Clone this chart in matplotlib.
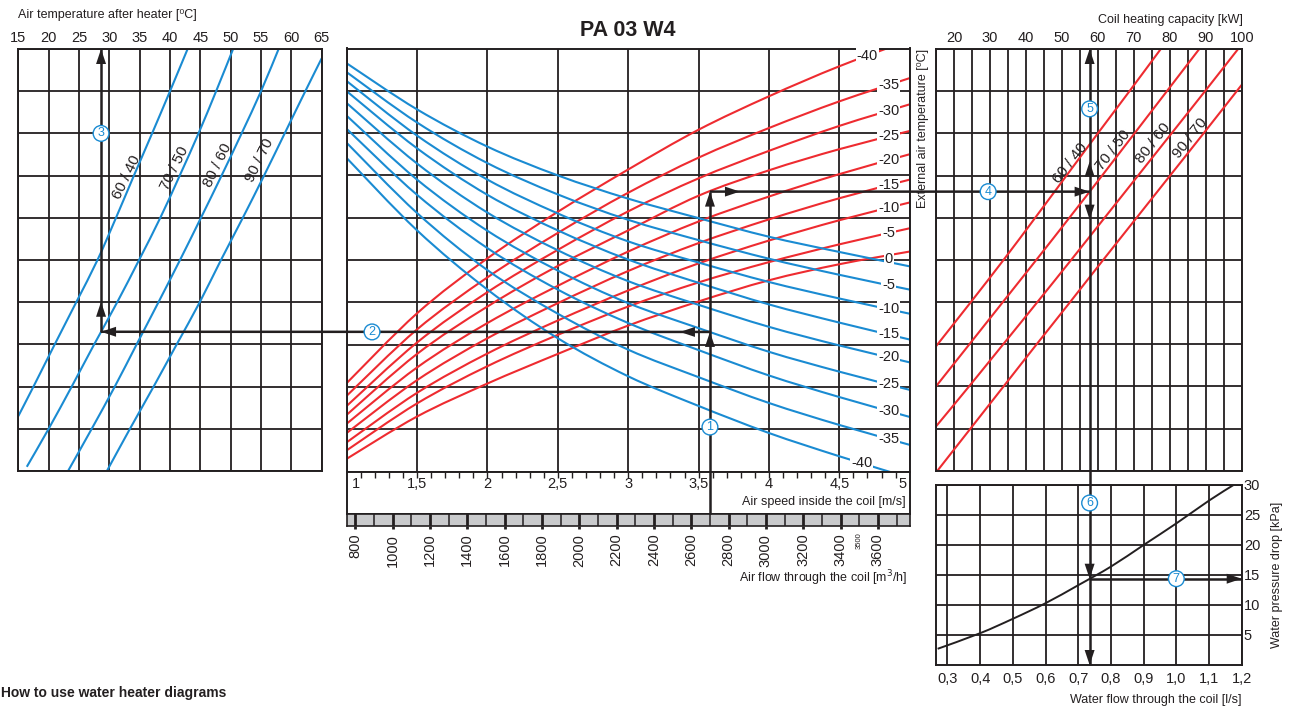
import numpy as np
import matplotlib
matplotlib.use('Agg')
import matplotlib.pyplot as plt
from matplotlib.path import Path
from matplotlib.patches import PathPatch

plt.rcParams['font.family'] = ['Liberation Sans', 'DejaVu Sans']

# the three upper charts share one hidden vertical scale: row 0 at the bottom, row 10 at the top

# centre chart: air speed [m/s] and the external air temperature curves
speed = [1, 1.5, 2, 2.5, 3, 3.5, 4, 4.5, 5]
flow_per_speed = 754   # m3/h of air at 1 m/s
red_temps = [-40, -35, -30, -25, -20, -15, -10, -5, 0]
red_rows = [
    [2.09, 3.74, 5.04, 6.14, 7.14, 8.08, 8.87, 9.58, 10.2],
    [1.79, 3.36, 4.59, 5.64, 6.59, 7.42, 8.12, 8.75, 9.30],
    [1.55, 3.05, 4.24, 5.24, 6.15, 6.93, 7.58, 8.17, 8.68],
    [1.34, 2.78, 3.90, 4.86, 5.70, 6.52, 7.12, 7.62, 8.05],
    [1.13, 2.46, 3.51, 4.39, 5.20, 5.91, 6.50, 7.03, 7.50],
    [0.91, 2.16, 3.15, 3.98, 4.74, 5.40, 5.96, 6.46, 6.90],
    [0.69, 1.86, 2.79, 3.57, 4.28, 4.92, 5.46, 5.94, 6.36],
    [0.50, 1.61, 2.49, 3.23, 3.90, 4.47, 4.95, 5.37, 5.75],
    [0.30, 1.30, 2.08, 2.78, 3.45, 4.02, 4.52, 4.90, 5.20],
]
blue_temps = [0, -5, -10, -15, -20, -25, -30, -35, -40]
blue_rows = [
    [9.65, 8.56, 7.68, 7.00, 6.45, 5.99, 5.55, 5.19, 4.85],
    [9.44, 8.25, 7.29, 6.55, 5.95, 5.47, 5.03, 4.65, 4.30],
    [9.23, 7.94, 6.90, 6.10, 5.44, 4.94, 4.48, 4.09, 3.73],
    [8.99, 7.64, 6.54, 5.70, 5.01, 4.46, 3.95, 3.52, 3.12],
    [8.71, 7.28, 6.12, 5.23, 4.50, 3.94, 3.42, 2.98, 2.58],
    [8.41, 6.90, 5.69, 4.75, 3.98, 3.39, 2.83, 2.36, 1.93],
    [8.10, 6.54, 5.28, 4.30, 3.51, 2.87, 2.27, 1.76, 1.29],
    [7.77, 6.11, 4.76, 3.73, 2.88, 2.23, 1.62, 1.10, 0.63],
    [7.41, 5.70, 4.30, 3.15, 2.25, 1.55, 0.91, 0.36, -0.15],
]
speed_ticks = [1, 1.5, 2, 2.5, 3, 3.5, 4, 4.5, 5]
speed_ticklabels = ['1', '1,5', '2', '2,5', '3', '3,5', '4', '4,5', '5']
flow_ticks = [800, 1000, 1200, 1400, 1600, 1800, 2000, 2200, 2400, 2600,
              2800, 3000, 3200, 3400, 3600]

# left chart: air temperature after heater [C] for each water regime
water_temps = ['60 / 40', '70 / 50', '80 / 60', '90 / 70']
after_rows = [
    [10, 9, 8, 7, 6, 5, 4, 3, 2, 1.3],
    [10, 9, 8, 7, 6, 5, 4, 3, 2, 1, 0.1],
    [10, 9, 8, 7, 6, 5, 4, 3, 2, 1, 0],
    [9.78, 9, 8, 7, 6, 5, 4, 3, 2, 1, 0],
]
after_temps = [
    [42.9, 40.0, 37.05, 34.05, 31.1, 28.05, 24.55, 21.0, 17.5, 15.0],
    [50.4, 47.6, 44.7, 41.6, 38.4, 34.9, 31.3, 27.5, 23.8, 20.0, 16.4],
    [57.9, 55.0, 51.8, 48.5, 45.1, 41.65, 38.1, 34.5, 30.9, 27.1, 23.2],
    [65.0, 62.3, 58.9, 55.5, 52.0, 48.4, 44.9, 41.1, 37.3, 33.4, 29.6],
]
after_ticks = [15, 20, 25, 30, 35, 40, 45, 50, 55, 60, 65]

# right chart: coil heating capacity [kW]
cap_rows = [
    [10, 9, 8, 7, 6, 5, 4, 2.95],
    [10, 9, 8, 7, 6, 5, 4, 3, 2],
    [10, 9, 8, 7, 6, 5, 4, 3, 2, 1.05],
    [9.15, 8, 7, 6, 5, 4, 3, 2, 1, 0],
]
cap_kw = [
    [77.5, 68.8, 60.0, 51.3, 42.6, 33.8, 24.7, 15.0],
    [88.2, 79.2, 70.2, 61.2, 52.1, 42.9, 33.6, 24.3, 15.0],
    [99.0, 89.8, 80.5, 71.2, 61.9, 52.6, 43.2, 33.7, 24.2, 15.0],
    [100.0, 89.4, 80.1, 70.8, 61.5, 52.3, 43.0, 33.8, 24.6, 15.4],
]
cap_ticks = [20, 30, 40, 50, 60, 70, 80, 90, 100]

# bottom right: water pressure drop [kPa] against water flow [l/s]
water_flow = [0.27, 0.4, 0.5, 0.6, 0.7, 0.8, 0.9, 1.0, 1.1, 1.175]
pressure_drop = [2.7, 5.3, 7.7, 10.3, 13.3, 16.4, 20.0, 23.6, 27.4, 30.0]
water_ticks = [0.3, 0.4, 0.5, 0.6, 0.7, 0.8, 0.9, 1.0, 1.1, 1.2]
water_ticklabels = ['0,3', '0,4', '0,5', '0,6', '0,7', '0,8', '0,9', '1,0', '1,1', '1,2']
dp_ticks = [5, 10, 15, 20, 25, 30]

# worked example
route_flow = 2700
route_temp = -25
route_water = '70 / 50'

INK = '#231f20'
BLUE = '#1a8bd2'
RED = '#ee2b30'
W, H = 1290, 709

fig = plt.figure(figsize=(W / 100, H / 100), dpi=100)


def box(x0, y0, x1, y1):
    # pixel box (top-left origin) -> figure fraction rect
    return [x0 / W, 1 - y1 / H, (x1 - x0) / W, (y1 - y0) / H]


def style(ax):
    for sp in ax.spines.values():
        sp.set_color(INK)
        sp.set_linewidth(1.4)
    ax.tick_params(length=0, colors=INK, labelcolor=INK)
    ax.grid(True, color=INK, lw=1.3)
    ax.set_axisbelow(True)


def smooth(ax, xs, ys, color, lw=1.5):
    # draw a curve through the read points as a Catmull-Rom style bezier
    p = np.column_stack([xs, ys]).astype(float)
    p = np.vstack([p[0], p, p[-1]])
    verts = [p[1]]
    codes = [Path.MOVETO]
    for i in range(1, len(p) - 2):
        c1 = p[i] + (p[i + 1] - p[i - 1]) / 6
        c2 = p[i + 1] - (p[i + 2] - p[i]) / 6
        verts += [c1, c2, p[i + 1]]
        codes += [Path.CURVE4] * 3
    ax.add_patch(PathPatch(Path(verts, codes), fill=False, ec=color, lw=lw))


# ---- left chart ----
ax_l = fig.add_axes(box(18.3, 49, 321.7, 471))
ax_l.set_xlim(15, 65)
ax_l.set_ylim(0, 10)
ax_l.set_xticks(after_ticks)
ax_l.set_yticks(range(11))
ax_l.set_yticklabels([])
ax_l.xaxis.tick_top()
style(ax_l)
ax_l.tick_params(axis='x', labelsize=10.5, pad=3)
for rows, temps in zip(after_rows, after_temps):
    smooth(ax_l, temps, rows, BLUE)
left_label_pos = [(32.8, 6.97), (40.75, 7.17), (47.9, 7.25), (54.8, 7.37)]
for name, (x, y) in zip(water_temps, left_label_pos):
    ax_l.text(x, y, name, rotation=64, ha='center', va='center',
              rotation_mode='anchor', fontsize=11, color=INK)

# ---- centre chart ----
ax_m = fig.add_axes(box(346.7, 48.5, 909.7, 471.5))
ax_m.set_xlim(1, 5)
ax_m.set_ylim(0, 10)
ax_m.set_xticks(speed_ticks)
ax_m.set_yticks(range(11))
ax_m.set_xticklabels([])
ax_m.set_yticklabels([])
style(ax_m)
for rows in red_rows:
    smooth(ax_m, speed, rows, RED)
for rows in blue_rows:
    smooth(ax_m, speed, rows, BLUE)

lab_box = dict(fc='white', ec='none', pad=0.6)
for t, rows in zip(red_temps, red_rows):
    if t == 0:
        continue
    s = 4.70 if t == -40 else 4.85
    ax_m.text(s, np.interp(s, speed, rows), str(t), ha='center', va='center',
              fontsize=10.5, color=INK, bbox=lab_box, zorder=5)
for t, rows in zip(blue_temps, blue_rows):
    if t == 0:
        continue
    s = 4.66 if t == -40 else 4.85
    ax_m.text(s, np.interp(s, speed, rows), str(t), ha='center', va='center',
              fontsize=10.5, color=INK, bbox=lab_box, zorder=5)
zero_y = (np.interp(4.85, speed, red_rows[red_temps.index(0)]) +
          np.interp(4.85, speed, blue_rows[blue_temps.index(0)])) / 2
ax_m.text(4.85, zero_y, '0', ha='center', va='center', fontsize=10.5,
          color=INK, bbox=lab_box, zorder=5)

# speed scale under the centre chart
ax_s = fig.add_axes(box(346.7, 471.5, 909.7, 514))
ax_s.set_xlim(1, 5)
ax_s.set_ylim(0, 1)
ax_s.set_xticks(np.arange(1.1, 4.95, 0.1))
ax_s.set_yticks([])
for sp in ax_s.spines.values():
    sp.set_color(INK)
    sp.set_linewidth(1.4)
ax_s.tick_params(axis='x', top=True, bottom=False, direction='in', length=4,
                 width=1, color=INK, labelbottom=False)
for v, lab in zip(speed_ticks, speed_ticklabels):
    if v == speed_ticks[0]:
        ax_s.text(v + 0.035, 0.7, lab, ha='left', va='center', fontsize=10.5, color=INK)
    elif v == speed_ticks[-1]:
        ax_s.text(v - 0.025, 0.7, lab, ha='right', va='center', fontsize=10.5, color=INK)
    else:
        ax_s.text(v, 0.7, lab, ha='center', va='center', fontsize=10.5, color=INK)
ax_s.text(4.97, 0.28, 'Air speed inside the coil [m/s]', ha='right', va='center',
          fontsize=9, color=INK)

# air flow strip
ax_f = fig.add_axes(box(346.7, 514, 909.7, 526))
ax_f.set_xlim(speed[0] * flow_per_speed, speed[-1] * flow_per_speed)
ax_f.set_ylim(0, 1)
ax_f.set_facecolor('#c9cacc')
for sp in ax_f.spines.values():
    sp.set_color(INK)
    sp.set_linewidth(1.2)
for v in range(flow_ticks[0], flow_ticks[-1] + 101, 100):
    ax_f.axvline(v, color=INK, lw=2.0 if v in flow_ticks else 1.1)
ax_f.set_xticks(flow_ticks)
ax_f.set_xticklabels([str(v) for v in flow_ticks], rotation=90, fontsize=10.5, color=INK)
ax_f.set_yticks([])
ax_f.tick_params(axis='x', length=2.5, width=2, pad=3, color=INK)
ax_f.text(3500, -0.55, '3500', rotation=90, ha='center', va='top', fontsize=5.5,
          color=INK, transform=ax_f.get_xaxis_transform())
fig.text(907 / W, 1 - 578 / H, 'Air flow through the coil [m$^3$/h]', ha='right',
         va='center', fontsize=9, color=INK)

# ---- right chart ----
ax_r = fig.add_axes(box(936, 49, 1241.7, 470.7))
ax_r.set_xlim(15, 100)
ax_r.set_ylim(0, 10)
grid_kw = list(range(15, 101, 5))
ax_r.set_xticks(grid_kw)
ax_r.set_xticklabels([str(v) if v in cap_ticks else '' for v in grid_kw])
ax_r.set_yticks(range(11))
ax_r.set_yticklabels([])
ax_r.xaxis.tick_top()
style(ax_r)
ax_r.tick_params(axis='x', labelsize=10.5, pad=3)
for rows, kw in zip(cap_rows, cap_kw):
    smooth(ax_r, kw, rows, RED)
right_label_pos = [(52.25, 7.29), (64.3, 7.6), (75.4, 7.77), (85.6, 7.88)]
for name, (x, y) in zip(water_temps, right_label_pos):
    ax_r.text(x, y, name, rotation=52, ha='center', va='center',
              rotation_mode='anchor', fontsize=11, color=INK)

# ---- water pressure drop ----
ax_p = fig.add_axes(box(936, 485, 1241.7, 665))
ax_p.set_xlim(0.265, 1.2)
ax_p.set_ylim(0, 30)
ax_p.set_xticks(water_ticks)
ax_p.set_xticklabels(water_ticklabels)
ax_p.set_yticks(dp_ticks)
ax_p.yaxis.tick_right()
style(ax_p)
ax_p.tick_params(axis='x', labelsize=10.5, pad=5)
ax_p.tick_params(axis='y', labelsize=10.5, pad=1.5)
smooth(ax_p, water_flow, pressure_drop, INK, lw=1.4)

# ---- texts ----
fig.text(628 / W, 1 - 30 / H, 'PA 03 W4', ha='center', va='center', fontsize=15.5,
         fontweight='bold', color=INK)
fig.text(18 / W, 1 - 15 / H, 'Air temperature after heater [\u2070C]', ha='left',
         va='center', fontsize=9, color=INK)
fig.text(1243 / W, 1 - 20 / H, 'Coil heating capacity [kW]', ha='right',
         va='center', fontsize=9, color=INK)
fig.text(923 / W, 1 - 128 / H, 'External air temperature [\u2070C]', rotation=90,
         ha='center', va='center', fontsize=9, color=INK)
fig.text(1277 / W, 1 - 575 / H, 'Water pressure drop [kPa]', rotation=90,
         ha='center', va='center', fontsize=9, color=INK)
fig.text(1242 / W, 1 - 700 / H, 'Water flow through the coil [l/s]', ha='right',
         va='center', fontsize=9, color=INK)
fig.text(1 / W, 1 - 693 / H, 'How to use water heater diagrams', ha='left',
         va='center', fontsize=10, fontweight='bold', color=INK,
         family=['Liberation Sans Narrow', 'Liberation Sans', 'DejaVu Sans'])

# ---- worked example arrows ----
route_speed = route_flow / flow_per_speed
r_low = np.interp(route_speed, speed, blue_rows[blue_temps.index(route_temp)])
r_high = np.interp(route_speed, speed, red_rows[red_temps.index(route_temp)])
k = water_temps.index(route_water)
t_after = np.interp(r_low, after_rows[k][::-1], after_temps[k][::-1])
cap = np.interp(r_high, cap_rows[k][::-1], cap_kw[k][::-1])

ov = fig.add_axes([0, 0, 1, 1], zorder=20)
ov.set_xlim(0, W)
ov.set_ylim(0, H)
ov.axis('off')


def at(ax, x, y):
    return ax.transData.transform((x, y))


def line(p, q):
    ov.plot([p[0], q[0]], [p[1], q[1]], color=INK, lw=1.8, solid_capstyle='butt')


def head(tip, d, length=15, half=5):
    d = np.array(d, float)
    n = np.array([-d[1], d[0]])
    tip = np.asarray(tip, float)
    base = tip - d * length
    tri = np.array([tip, base + n * half, base - n * half])
    ov.fill(tri[:, 0], tri[:, 1], color=INK, lw=0, zorder=3)


UP, DOWN, LEFT, RIGHT = (0, 1), (0, -1), (-1, 0), (1, 0)

p_strip = at(ax_f, route_flow, 0)
p_strip[1] = ax_f.transAxes.transform((0, 1))[1]
p_low = at(ax_m, route_speed, r_low)
p_high = at(ax_m, route_speed, r_high)
p_left = at(ax_l, t_after, r_low)
p_left_top = at(ax_l, t_after, 10)
p_right = at(ax_r, cap, r_high)
p_right_top = at(ax_r, cap, 10)
wf = ax_p.transData.inverted().transform(p_right)[0]
dp = np.interp(wf, water_flow, pressure_drop)
p_dp = at(ax_p, wf, dp)
p_bottom = at(ax_p, wf, 0)
p_dp_end = at(ax_p, 1.2, dp)

line(p_strip, p_high)
line(p_low, p_left)
line(p_left, p_left_top)
line(p_high, p_right)
line(p_right_top, p_bottom)
line(p_dp, p_dp_end)

head(p_low, UP)
head(p_high, UP)
head(p_low + np.array([-30, 0]), LEFT)
head(p_left, LEFT)
head(p_left + np.array([0, 30]), UP)
head(p_left_top, UP)
head(p_high + np.array([30, 0]), RIGHT)
head(p_right, RIGHT)
head(p_right + np.array([0, 30]), UP)
head(p_right_top, UP)
head(p_right + np.array([0, -28]), DOWN)
head(p_dp, DOWN)
head(p_bottom, DOWN)
head(p_dp_end, RIGHT)

markers = [
    ('1', at(ax_m, route_speed, 1.05)),
    ('2', at(ax_m, 1.18, r_low)),
    ('3', at(ax_l, t_after, 8.0)),
    ('4', at(ax_r, 29.5, r_high)),
    ('5', at(ax_r, cap, 8.58)),
    ('6', at(ax_p, wf, 27.0)),
    ('7', at(ax_p, 1.0, dp)),
]
for num, p in markers:
    ov.text(p[0], p[1], num, ha='center', va='center', fontsize=9, color=BLUE,
            zorder=10, bbox=dict(boxstyle='circle,pad=0.15', fc='white', ec=BLUE, lw=1.0))

fig.savefig('out.png', dpi=100)
